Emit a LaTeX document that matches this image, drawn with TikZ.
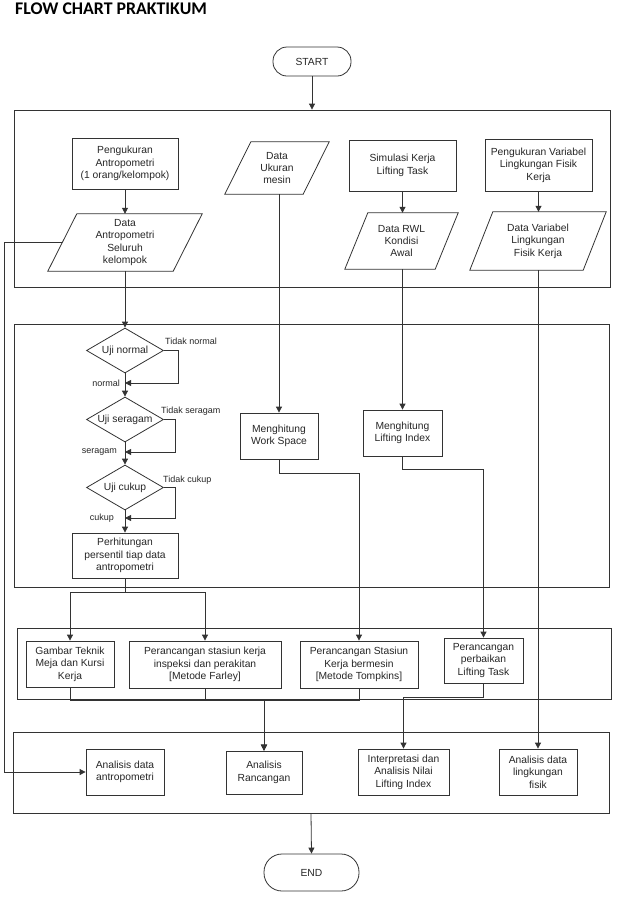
\documentclass[tikz,border=0pt]{standalone}
\usepackage{fontspec}
\setmainfont{Liberation Sans}
\newfontfamily\titlefont{Carlito}
\usetikzlibrary{shapes.geometric,arrows.meta}
\tikzset{
  ln/.style={draw=black!80, line width=0.8pt},
  arr/.style={ln, -{Triangle[length=6pt,width=6pt]}},
  txt/.style={font=\fontsize{10.3}{12.4}\selectfont, align=center, text=black!85},
  box/.style={ln, txt, rectangle, inner sep=1pt},
  pg/.style={txt, rectangle, inner sep=0pt},
  grp/.style={ln, rectangle, inner sep=0pt},
  term/.style={ln, txt, rectangle, rounded corners=14pt, inner sep=0pt},
  dia/.style={ln, txt, diamond, aspect=1.7, inner sep=0pt, minimum width=77pt, minimum height=45pt},
  lbl/.style={font=\fontsize{9}{10}\selectfont, text=black!85, inner sep=0pt}
}
\newcommand{\pgdraw}[2]{\draw[ln] ([xshift=#2]#1.north west) -- ([xshift=#2]#1.north east) -- ([xshift=-#2]#1.south east) -- ([xshift=-#2]#1.south west) -- cycle;}
\begin{document}
\begin{tikzpicture}[x=1pt,y=-1pt]
\useasboundingbox (0,0) rectangle (617,903);
\node[anchor=base west, inner sep=0pt, font=\titlefont\bfseries\fontsize{17.8}{20}\selectfont] (title) at (15,14.5) {FLOW CHART PRAKTIKUM};

% terminators
\node[term, minimum width=78pt, minimum height=29pt] (start) at (312,61.5) {START};
\node[term, minimum width=95pt, minimum height=37pt, rounded corners=18pt] (end) at (311.5,872.5) {END};

% group boxes
\node[grp, minimum width=596pt, minimum height=177pt] (g1) at (312,198.5) {};
\node[grp, minimum width=595pt, minimum height=263pt] (g2) at (311.5,455.5) {};
\node[grp, minimum width=594pt, minimum height=71pt] (g3) at (314,663.5) {};
\node[grp, minimum width=596pt, minimum height=81pt] (g4) at (311,772.5) {};

% group 1
\node[box, minimum width=106pt, minimum height=51pt] (pant) at (125,163.5) {Pengukuran\\Antropometri\\(1 orang/kelompok)};
\node[pg, minimum width=125pt, minimum height=57pt] (dant) at (125,242.5) {Data\\Antropometri\\Seluruh\\kelompok};
\pgdraw{dant}{14.5pt}
\node[pg, minimum width=78pt, minimum height=52pt] (dukur) at (277,168) {Data\\Ukuran\\mesin};
\pgdraw{dukur}{13pt}
\node[box, minimum width=107pt, minimum height=51pt] (sim) at (402.5,165.5) {Simulasi Kerja\\Lifting Task};
\node[pg, minimum width=90pt, minimum height=56pt] (drwl) at (401.5,241) {Data RWL\\Kondisi\\Awal};
\pgdraw{drwl}{11.5pt}
\node[box, minimum width=107pt, minimum height=52pt] (pvar) at (538.5,165) {Pengukuran Variabel\\Lingkungan Fisik\\Kerja};
\node[pg, minimum width=113pt, minimum height=58pt] (dvar) at (538,241) {Data Variabel\\Lingkungan\\Fisik Kerja};
\pgdraw{dvar}{11.5pt}

% group 2
\node[dia] (ujin) at (125,350.5) {Uji normal};
\node[dia] (ujis) at (125,419.5) {Uji seragam};
\node[dia] (ujic) at (125,487.5) {Uji cukup};
\node[box, minimum width=106pt, minimum height=45pt] (perh) at (125,555.5) {Perhitungan\\persentil tiap data\\antropometri};
\node[box, minimum width=78pt, minimum height=46pt] (mws) at (279,436) {Menghitung\\Work Space};
\node[box, minimum width=79pt, minimum height=46pt] (mli) at (402.5,433) {Menghitung\\Lifting Index};

\node[lbl, anchor=west] (ltn) at (165,341) {Tidak normal};
\node[lbl, anchor=east] (ln1) at (120,383) {normal};
\node[lbl, anchor=west] (lts) at (161,411) {Tidak seragam};
\node[lbl, anchor=east] (ls1) at (117,452) {seragam};
\node[lbl, anchor=west] (ltc) at (163,480) {Tidak cukup};
\node[lbl, anchor=east] (lc1) at (114,518) {cukup};

\coordinate (jn) at (125,383);
\coordinate (js) at (125,452);
\coordinate (jc) at (125,518);

% group 3
\node[box, minimum width=88pt, minimum height=46pt] (gamb) at (70,664) {Gambar Teknik\\Meja dan Kursi\\Kerja};
\node[box, minimum width=152pt, minimum height=47pt] (pstk) at (205,664.5) {Perancangan stasiun kerja\\inspeksi dan perakitan\\{[}Metode Farley{]}};
\node[box, minimum width=118pt, minimum height=47pt] (pstb) at (359,664.5) {Perancangan Stasiun\\Kerja bermesin\\{[}Metode Tompkins{]}};
\node[box, minimum width=79pt, minimum height=45pt] (ppl) at (483.5,660.5) {Perancangan\\perbaikan\\Lifting Task};

% group 4
\node[box, minimum width=78pt, minimum height=46pt] (aant) at (125,772) {Analisis data\\antropometri};
\node[box, minimum width=76pt, minimum height=43pt] (aran) at (264,772.5) {Analisis\\Rancangan};
\node[box, minimum width=91pt, minimum height=46pt] (intp) at (403.5,772) {Interpretasi dan\\Analisis Nilai\\Lifting Index};
\node[box, minimum width=78pt, minimum height=46pt] (aling) at (538,772) {Analisis data\\lingkungan\\fisik};

% connectors
\draw[arr] (start) -- (g1.north);
\draw[arr] (pant) -- (dant);
\draw[arr] (dant.south) -- (ujin.north);
\draw[arr] (ujin.east) -| (178,383) -- (jn);
\draw[arr] (ujin.south) -- (ujis.north);
\draw[arr] (ujis.east) -| (175,452) -- (js);
\draw[arr] (ujis.south) -- (ujic.north);
\draw[arr] (ujic.east) -| (175,518) -- (jc);
\draw[arr] (ujic.south) -- (perh.north);

\draw[arr] (mws.north |- dukur.south) -- (mws.north);
\draw[arr] (sim) -- (sim |- drwl.north);
\draw[arr] (mli.north |- drwl.south) -- (mli.north);
\draw[arr] (pvar) -- (pvar |- dvar.north);
\draw[arr] (dvar.south) -- (aling.north);

\draw[arr] (mws.south) -- ++(0,14) -| (pstb.north);
\draw[arr] (mli.south) -- ++(0,13) -| (ppl.north);
\draw[arr] (perh.south) -- ++(0,14) -| (gamb.north);
\draw[arr] (perh.south) -- ++(0,14) -| (pstk.north);

\draw[arr] (gamb.south) -- ++(0,12.5) -| (aran.north);
\draw[arr] (pstk.south) -- ++(0,12) -| (aran.north);
\draw[arr] (pstb.south) -- ++(0,12) -| (aran.north);
\draw[arr] (ppl.south) -- ++(0,14) -| (intp.north);

\draw[arr] (dant.west) -- ++(-57.5,0) |- (aant.west);
\draw[arr] (g4.south) -- (end.north);
\end{tikzpicture}
\end{document}
